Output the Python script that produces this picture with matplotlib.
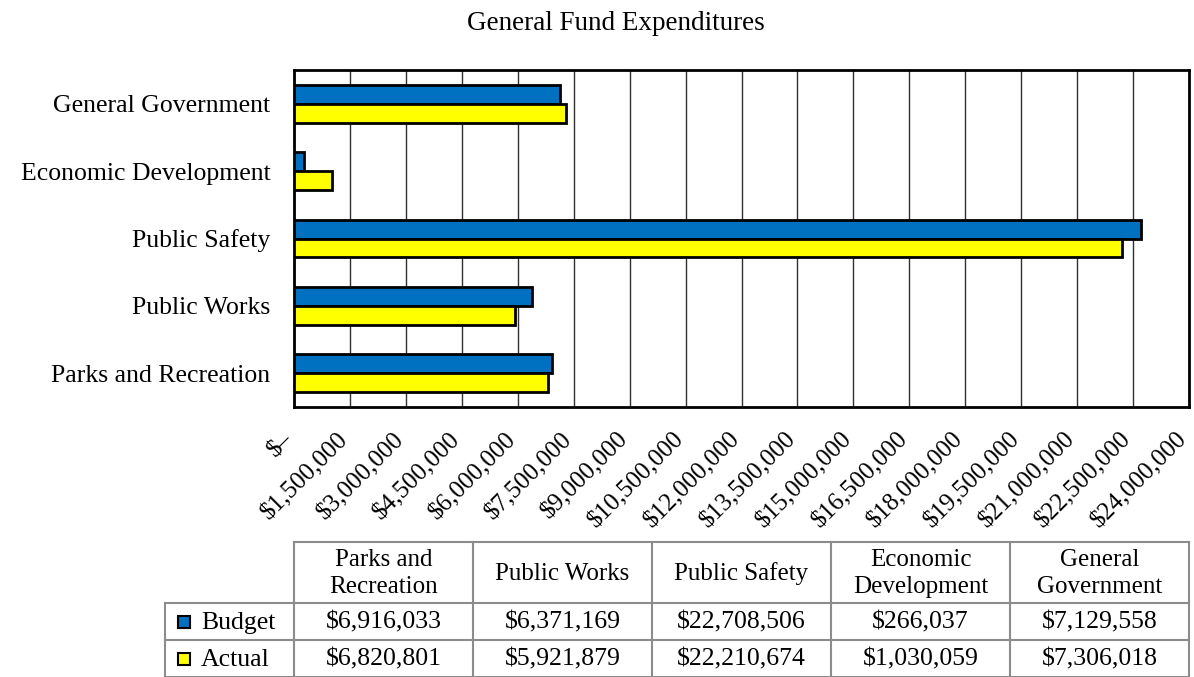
import matplotlib
matplotlib.use('Agg')
import matplotlib.pyplot as plt
from matplotlib.patches import Rectangle
from matplotlib.transforms import ScaledTranslation

# Data
categories = ['Parks and Recreation', 'Public Works', 'Public Safety',
              'Economic Development', 'General Government']
header_labels = ['Parks and\nRecreation', 'Public Works', 'Public Safety',
                 'Economic\nDevelopment', 'General\nGovernment']
budget = [6916033, 6371169, 22708506, 266037, 7129558]
actual = [6820801, 5921879, 22210674, 1030059, 7306018]
series_names = ['Budget', 'Actual']
tick_values = [i * 1500000 for i in range(17)]

blue = '#0070C0'
yellow = '#FFFF00'

plt.rcParams['font.family'] = ['Liberation Serif', 'DejaVu Serif']

W, H = 1194, 677
fig = plt.figure(figsize=(W / 100, H / 100), dpi=100, facecolor='white')

# Main chart
L, R, T, B = 294, 1189, 70, 407
ax = fig.add_axes([L / W, 1 - B / H, (R - L) / W, (B - T) / H])

y = list(range(len(categories)))
h = 0.28
ax.barh([v + h / 2 for v in y], budget, height=h, color=blue,
        edgecolor='black', linewidth=2, zorder=3)
ax.barh([v - h / 2 for v in y], actual, height=h, color=yellow,
        edgecolor='black', linewidth=2, zorder=3)

ax.set_xlim(0, 24000000)
ax.set_ylim(-0.5, 4.5)
ax.set_xticks(tick_values)
ax.set_xticklabels([])
# rotated x tick labels, placed by hand so they can be nudged
offset = ScaledTranslation(-5 / 100, -29 / 100, fig.dpi_scale_trans)
for v in tick_values:
    txt = '$–' if v == 0 else '${:,}'.format(v)
    ax.text(v, 0, txt, transform=ax.get_xaxis_transform() + offset,
            rotation=45, ha='right', va='center', rotation_mode='anchor',
            fontsize=18, clip_on=False)
ax.set_yticks(y)
ax.set_yticklabels(categories, fontsize=18.5)
ax.tick_params(axis='x', length=0)
ax.tick_params(axis='y', length=0, pad=17)
ax.grid(axis='x', color='#303030', linewidth=1, zorder=0)
for s in ax.spines.values():
    s.set_linewidth(2)
    s.set_color('black')

# Title
fig.text(616 / W, 1 - 24 / H, 'General Fund Expenditures', fontsize=19.5,
         ha='center', va='center')

# Data table drawn in pixel coordinates
tx = fig.add_axes([0, 0, 1, 1])
tx.set_xlim(0, W)
tx.set_ylim(H, 0)
tx.axis('off')
tx.patch.set_alpha(0)

gray = '#8c8c8c'
col_w = (R - L) / 5
row_top, row1, row2, row_bot = 542, 603, 640, 677
lab_left = 165

tx.plot([L, R], [row_top, row_top], color=gray, lw=1.5)
tx.plot([lab_left, R], [row1, row1], color=gray, lw=1.5)
tx.plot([lab_left, R], [row2, row2], color=gray, lw=1.5)
tx.plot([lab_left, R], [row_bot - 0.5, row_bot - 0.5], color=gray, lw=1.5)
tx.plot([lab_left, lab_left], [row1, row_bot], color=gray, lw=1.5)
for i in range(6):
    xv = L + i * col_w
    tx.plot([xv, xv], [row_top, row_bot], color=gray, lw=1.5)

for i, lab in enumerate(header_labels):
    tx.text(L + (i + 0.5) * col_w, (row_top + row1) / 2 + 1, lab,
            ha='center', va='center', fontsize=18, linespacing=1.3)

rows = [budget, actual]
colors = [blue, yellow]
for r, (vals, name, c) in enumerate(zip(rows, series_names, colors)):
    top = row1 if r == 0 else row2
    bot = row2 if r == 0 else row_bot
    yc = (top + bot) / 2
    tx.add_patch(Rectangle((178, yc - 6), 12, 12, facecolor=c,
                           edgecolor='black', linewidth=1.5))
    tx.text(201, yc + 1, name, ha='left', va='center', fontsize=18.5)
    for i, v in enumerate(vals):
        tx.text(L + (i + 0.5) * col_w, yc + 1, '${:,}'.format(v),
                ha='center', va='center', fontsize=18.5)

fig.savefig('out.png', dpi=100, facecolor='white')
